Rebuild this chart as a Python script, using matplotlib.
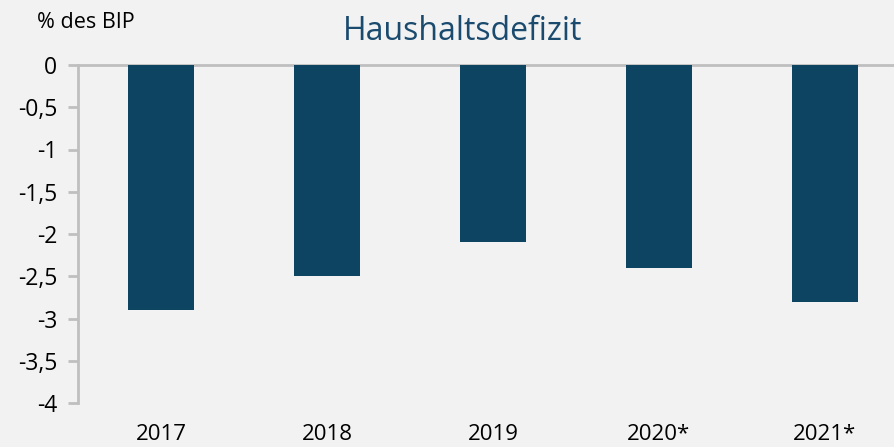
import matplotlib
matplotlib.use("Agg")
from matplotlib import pyplot as plt

years = ["2017", "2018", "2019", "2020*", "2021*"]
defizit = [-2.9, -2.5, -2.1, -2.4, -2.8]
y_ticks = [0, -0.5, -1, -1.5, -2, -2.5, -3, -3.5, -4]
y_labels = ["0", "-0,5", "-1", "-1,5", "-2", "-2,5", "-3", "-3,5", "-4"]

plt.rcParams['font.family'] = ['Open Sans', 'DejaVu Sans']
bg = "#f2f2f2"
grau = "#bfbfbf"

fig = plt.figure(figsize=(8.95, 4.47), dpi=100, facecolor=bg)
ax = fig.add_axes([78 / 895, 1 - 403 / 447, 830 / 895, 338 / 447])
ax.set_facecolor(bg)

x = list(range(len(years)))
ax.bar(x, defizit, width=0.4, color="#0d4462", zorder=3)

ax.set_xlim(-0.5, 4.5)
ax.set_ylim(-4, 0)
ax.set_yticks(y_ticks)
ax.set_yticklabels(y_labels)
ax.set_xticks(x)
ax.set_xticklabels(years)

for s in ["right", "bottom"]:
    ax.spines[s].set_visible(False)
for s in ["left", "top"]:
    ax.spines[s].set_color(grau)
    ax.spines[s].set_linewidth(2)

ax.tick_params(axis="y", colors=grau, length=7, width=2, labelcolor="black",
               labelsize=16.5, pad=8)
ax.tick_params(axis="x", length=0, labelsize=16, pad=15)

fig.text(37 / 895, 1 - 22 / 447, "% des BIP", fontsize=15.5, va="center", ha="left")
fig.text(463 / 895, 1 - 32 / 447, "Haushaltsdefizit", fontsize=23, color="#1a4a6e",
         va="center", ha="center")

fig.savefig("out.png", dpi=100, facecolor=bg)
